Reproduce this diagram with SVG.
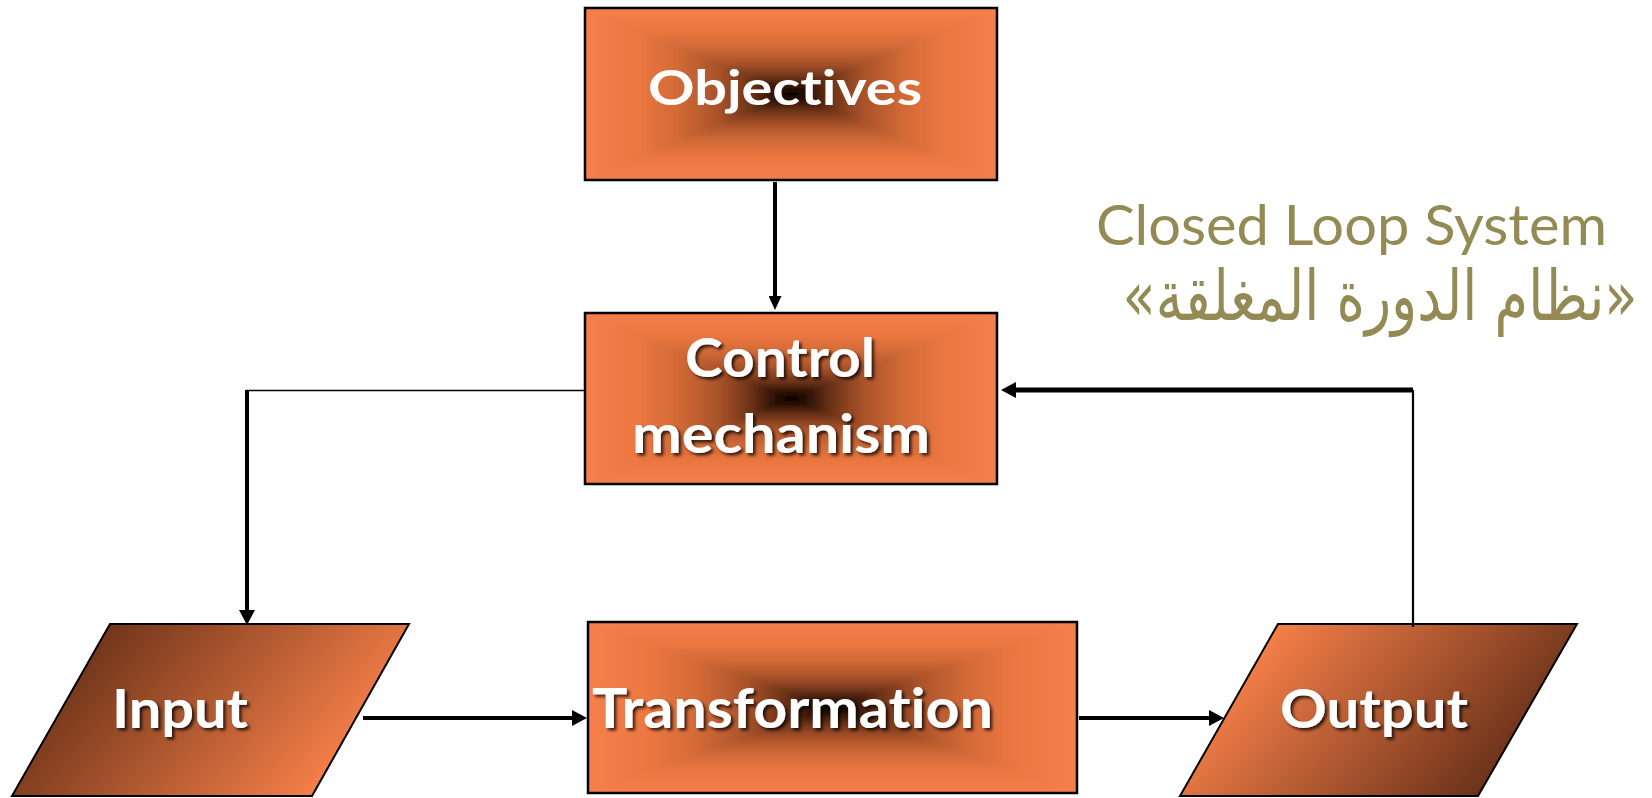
<svg xmlns="http://www.w3.org/2000/svg" width="1652" height="798" viewBox="0 0 1652 798">
  <style>
    .edge { stroke: #000; stroke-width: 2.5; fill: none; }
    .base { fill: #f6804b; }
    .tri { shape-rendering: crispEdges; }
    .label { font-family: Lato, "Open Sans", sans-serif; font-weight: bold; fill: #fff; font-variant-ligatures: none; }
    .shadowed { filter: url(#text-shadow); }
    .caption { font-family: Lato, "Open Sans", sans-serif; fill: #948a54; font-variant-ligatures: none; }
    .caption-ar { font-family: "DejaVu Sans", "Noto Sans", sans-serif; fill: #948a54; }
    .wire { fill: none; stroke: #000; }
  </style>
  <defs>
    <!-- rectangular "path" shading: orange rim fading to a black core -->
    <linearGradient id="ramp-top" x1="0" y1="0" x2="0" y2="1">
      <stop offset="0" stop-color="#f6804b"/>
      <stop offset="0.25" stop-color="#ec7741"/>
      <stop offset="0.45" stop-color="#d36a37"/>
      <stop offset="0.65" stop-color="#a8522a"/>
      <stop offset="0.8" stop-color="#6e3418"/>
      <stop offset="0.92" stop-color="#2e1206"/>
      <stop offset="1" stop-color="#000"/>
    </linearGradient>
    <linearGradient id="ramp-bottom" href="#ramp-top" x1="0" y1="1" x2="0" y2="0"/>
    <linearGradient id="ramp-left" href="#ramp-top" x1="0" y1="0" x2="1" y2="0"/>
    <linearGradient id="ramp-right" href="#ramp-top" x1="1" y1="0" x2="0" y2="0"/>

    <linearGradient id="fill-input" gradientUnits="userSpaceOnUse" x1="110" y1="624" x2="312" y2="796">
      <stop offset="0" stop-color="#71361a"/>
      <stop offset="1" stop-color="#f57f49"/>
    </linearGradient>
    <linearGradient id="fill-output" gradientUnits="userSpaceOnUse" x1="1278" y1="624" x2="1478" y2="796">
      <stop offset="0" stop-color="#f57f49"/>
      <stop offset="1" stop-color="#6b3219"/>
    </linearGradient>

    <filter id="soft" x="0" y="0" width="100%" height="100%">
      <feGaussianBlur stdDeviation="2.5"/>
    </filter>
    <filter id="text-shadow" x="-10%" y="-20%" width="130%" height="150%">
      <feDropShadow dx="2.5" dy="2.5" stdDeviation="1.5" flood-color="#000" flood-opacity="0.75"/>
    </filter>

    <marker id="arrow-sm" viewBox="0 0 14 13" markerWidth="14" markerHeight="13" refX="5" refY="6.5" markerUnits="userSpaceOnUse" orient="auto">
      <path d="M0,0 L14,6.5 L0,13 z" fill="#000"/>
    </marker>
    <marker id="arrow" viewBox="0 0 15 16" markerWidth="15" markerHeight="16" refX="6" refY="8" markerUnits="userSpaceOnUse" orient="auto">
      <path d="M0,0 L15,8 L0,16 z" fill="#000"/>
    </marker>
  </defs>

  <rect width="1652" height="798" fill="#fff"/>

  <g id="objectives">
    <rect class="base" x="585" y="8" width="412" height="172"/>
    <g filter="url(#soft)">
      <polygon class="tri" points="585,8 997,8 791,94" fill="url(#ramp-top)"/>
      <polygon class="tri" points="585,180 997,180 791,94" fill="url(#ramp-bottom)"/>
      <polygon class="tri" points="585,8 585,180 791,94" fill="url(#ramp-left)"/>
      <polygon class="tri" points="997,8 997,180 791,94" fill="url(#ramp-right)"/>
    </g>
    <rect class="edge" x="585" y="8" width="412" height="172"/>
    <text class="label" x="648" y="105" font-size="47" textLength="274" lengthAdjust="spacingAndGlyphs">Objectives</text>
  </g>

  <g id="control-mechanism">
    <rect class="base" x="585" y="313" width="412" height="171"/>
    <g filter="url(#soft)">
      <polygon class="tri" points="585,313 997,313 791,398.5" fill="url(#ramp-top)"/>
      <polygon class="tri" points="585,484 997,484 791,398.5" fill="url(#ramp-bottom)"/>
      <polygon class="tri" points="585,313 585,484 791,398.5" fill="url(#ramp-left)"/>
      <polygon class="tri" points="997,313 997,484 791,398.5" fill="url(#ramp-right)"/>
    </g>
    <rect class="edge" x="585" y="313" width="412" height="171"/>
    <text class="label shadowed" x="685" y="377" font-size="54" textLength="190" lengthAdjust="spacingAndGlyphs">Control</text>
    <text class="label shadowed" x="632" y="453" font-size="54" textLength="298" lengthAdjust="spacingAndGlyphs">mechanism</text>
  </g>

  <g id="transformation">
    <rect class="base" x="588" y="622" width="489" height="171"/>
    <g filter="url(#soft)">
      <polygon class="tri" points="588,622 1077,622 832.5,707.5" fill="url(#ramp-top)"/>
      <polygon class="tri" points="588,793 1077,793 832.5,707.5" fill="url(#ramp-bottom)"/>
      <polygon class="tri" points="588,622 588,793 832.5,707.5" fill="url(#ramp-left)"/>
      <polygon class="tri" points="1077,622 1077,793 832.5,707.5" fill="url(#ramp-right)"/>
    </g>
    <rect class="edge" x="588" y="622" width="489" height="171"/>
    <text class="label shadowed" x="592" y="728" font-size="56" textLength="401" lengthAdjust="spacingAndGlyphs">Transformation</text>
  </g>

  <g id="input">
    <polygon points="110,624 409,624 312,796 12,796" fill="url(#fill-input)" stroke="#000" stroke-width="2"/>
    <text class="label shadowed" x="112" y="728" font-size="53" textLength="136" lengthAdjust="spacingAndGlyphs">Input</text>
  </g>

  <g id="output">
    <polygon points="1278,624 1577,624 1478,796 1180,796" fill="url(#fill-output)" stroke="#000" stroke-width="2"/>
    <text class="label shadowed" x="1280" y="728" font-size="54" textLength="188" lengthAdjust="spacingAndGlyphs">Output</text>
  </g>

  <g id="caption">
    <text class="caption" x="1096" y="245" font-size="57" textLength="511" lengthAdjust="spacingAndGlyphs">Closed Loop System</text>
    <text class="caption-ar" x="1380" y="320" font-size="70" text-anchor="middle" textLength="515" lengthAdjust="spacingAndGlyphs">«نظام الدورة المغلقة»</text>
  </g>

  <g id="connectors">
    <!-- objectives down to the controller -->
    <path class="wire" d="M775,182 V301" stroke-width="4" marker-end="url(#arrow-sm)"/>
    <!-- controller out to the input -->
    <path class="wire" d="M585,390.5 H246" stroke-width="1.6"/>
    <path class="wire" d="M247,390 V616" stroke-width="4" marker-end="url(#arrow)"/>
    <!-- main flow -->
    <path class="wire" d="M363,718 H578" stroke-width="4" marker-end="url(#arrow)"/>
    <path class="wire" d="M1079,718 H1215" stroke-width="4" marker-end="url(#arrow)"/>
    <!-- feedback from output -->
    <path class="wire" d="M1413,390 V627" stroke="#4a7ebb" stroke-width="2.2"/>
    <path class="wire" d="M1413,390 H1010" stroke-width="5" marker-end="url(#arrow)"/>
  </g>
</svg>
